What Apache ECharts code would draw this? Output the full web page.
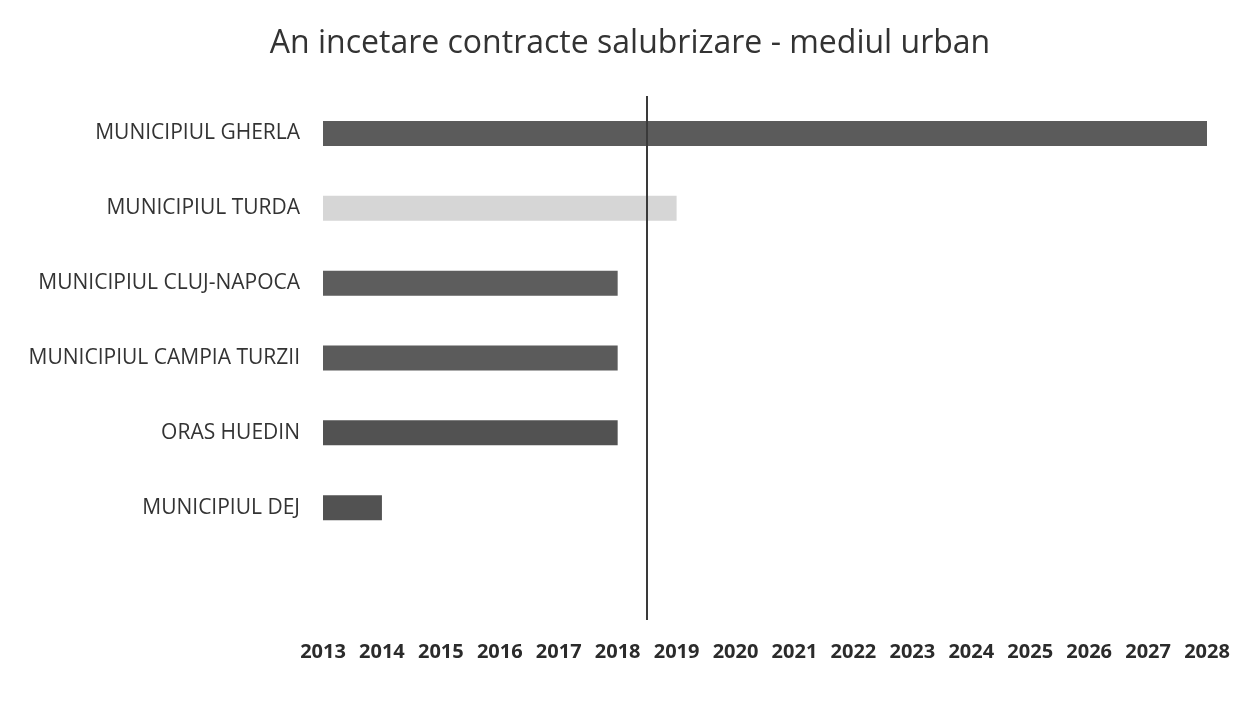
<!DOCTYPE html>
<html lang="ro">
<head>
    <meta charset="UTF-8">
    <title>An incetare contracte salubrizare - mediul urban</title>
    <script src="https://cdn.jsdelivr.net/npm/echarts@6/dist/echarts.min.js"></script>
    <style>
        html, body { margin: 0; padding: 0; background: #fff; }
        #main { width: 1260px; height: 713px; }
    </style>
</head>
<body>
<div id="main"></div>
<script>
    // categorii, de sus in jos (ultimul rand e gol in grafic)
    var localitati = ['MUNICIPIUL GHERLA', 'MUNICIPIUL TURDA', 'MUNICIPIUL CLUJ-NAPOCA',
        'MUNICIPIUL CAMPIA TURZII', 'ORAS HUEDIN', 'MUNICIPIUL DEJ', ''];
    // anul incetarii contractului
    var anIncetare = [2028, 2019, 2018, 2018, 2018, 2014, null];
    var culori = ['#5b5b5b', '#d6d6d6', '#5d5d5d', '#5b5b5b', '#525252', '#525252', '#525252'];
    var anCurent = 2018.5;
    var aniMin = 2013, aniMax = 2028;

    var chart = echarts.init(document.getElementById('main'));

    var date = anIncetare.map(function (v, i) {
        return { value: v, itemStyle: { color: culori[i] } };
    });

    var option = {
        backgroundColor: '#ffffff',
        title: {
            text: 'An incetare contracte salubrizare - mediul urban',
            left: 'center',
            top: 23,
            textStyle: {
                fontFamily: 'Open Sans',
                fontSize: 32,
                fontWeight: 'normal',
                color: '#333333'
            }
        },
        grid: { left: 323, right: 53, top: 96, bottom: 93 },
        xAxis: {
            type: 'value',
            min: aniMin,
            max: aniMax,
            interval: 1,
            axisLine: { show: false },
            axisTick: { show: false },
            splitLine: { show: false },
            axisLabel: {
                margin: 22,
                fontFamily: 'Open Sans',
                fontSize: 20,
                fontWeight: 'bold',
                color: '#2b2b2b',
                formatter: function (v) { return String(v); }
            }
        },
        yAxis: {
            type: 'category',
            inverse: true,
            data: localitati,
            axisLine: { show: false },
            axisTick: { show: false },
            axisLabel: {
                margin: 23,
                fontFamily: 'Open Sans',
                fontSize: 21,
                color: '#333333'
            }
        },
        series: [{
            type: 'bar',
            data: date,
            barWidth: 25,
            clip: true,
            markLine: {
                silent: true,
                symbol: 'none',
                label: { show: false },
                lineStyle: { color: '#3a3a3a', width: 2, type: 'solid' },
                data: [{ xAxis: anCurent }]
            }
        }]
    };
    chart.setOption(option);
</script>
</body>
</html>
